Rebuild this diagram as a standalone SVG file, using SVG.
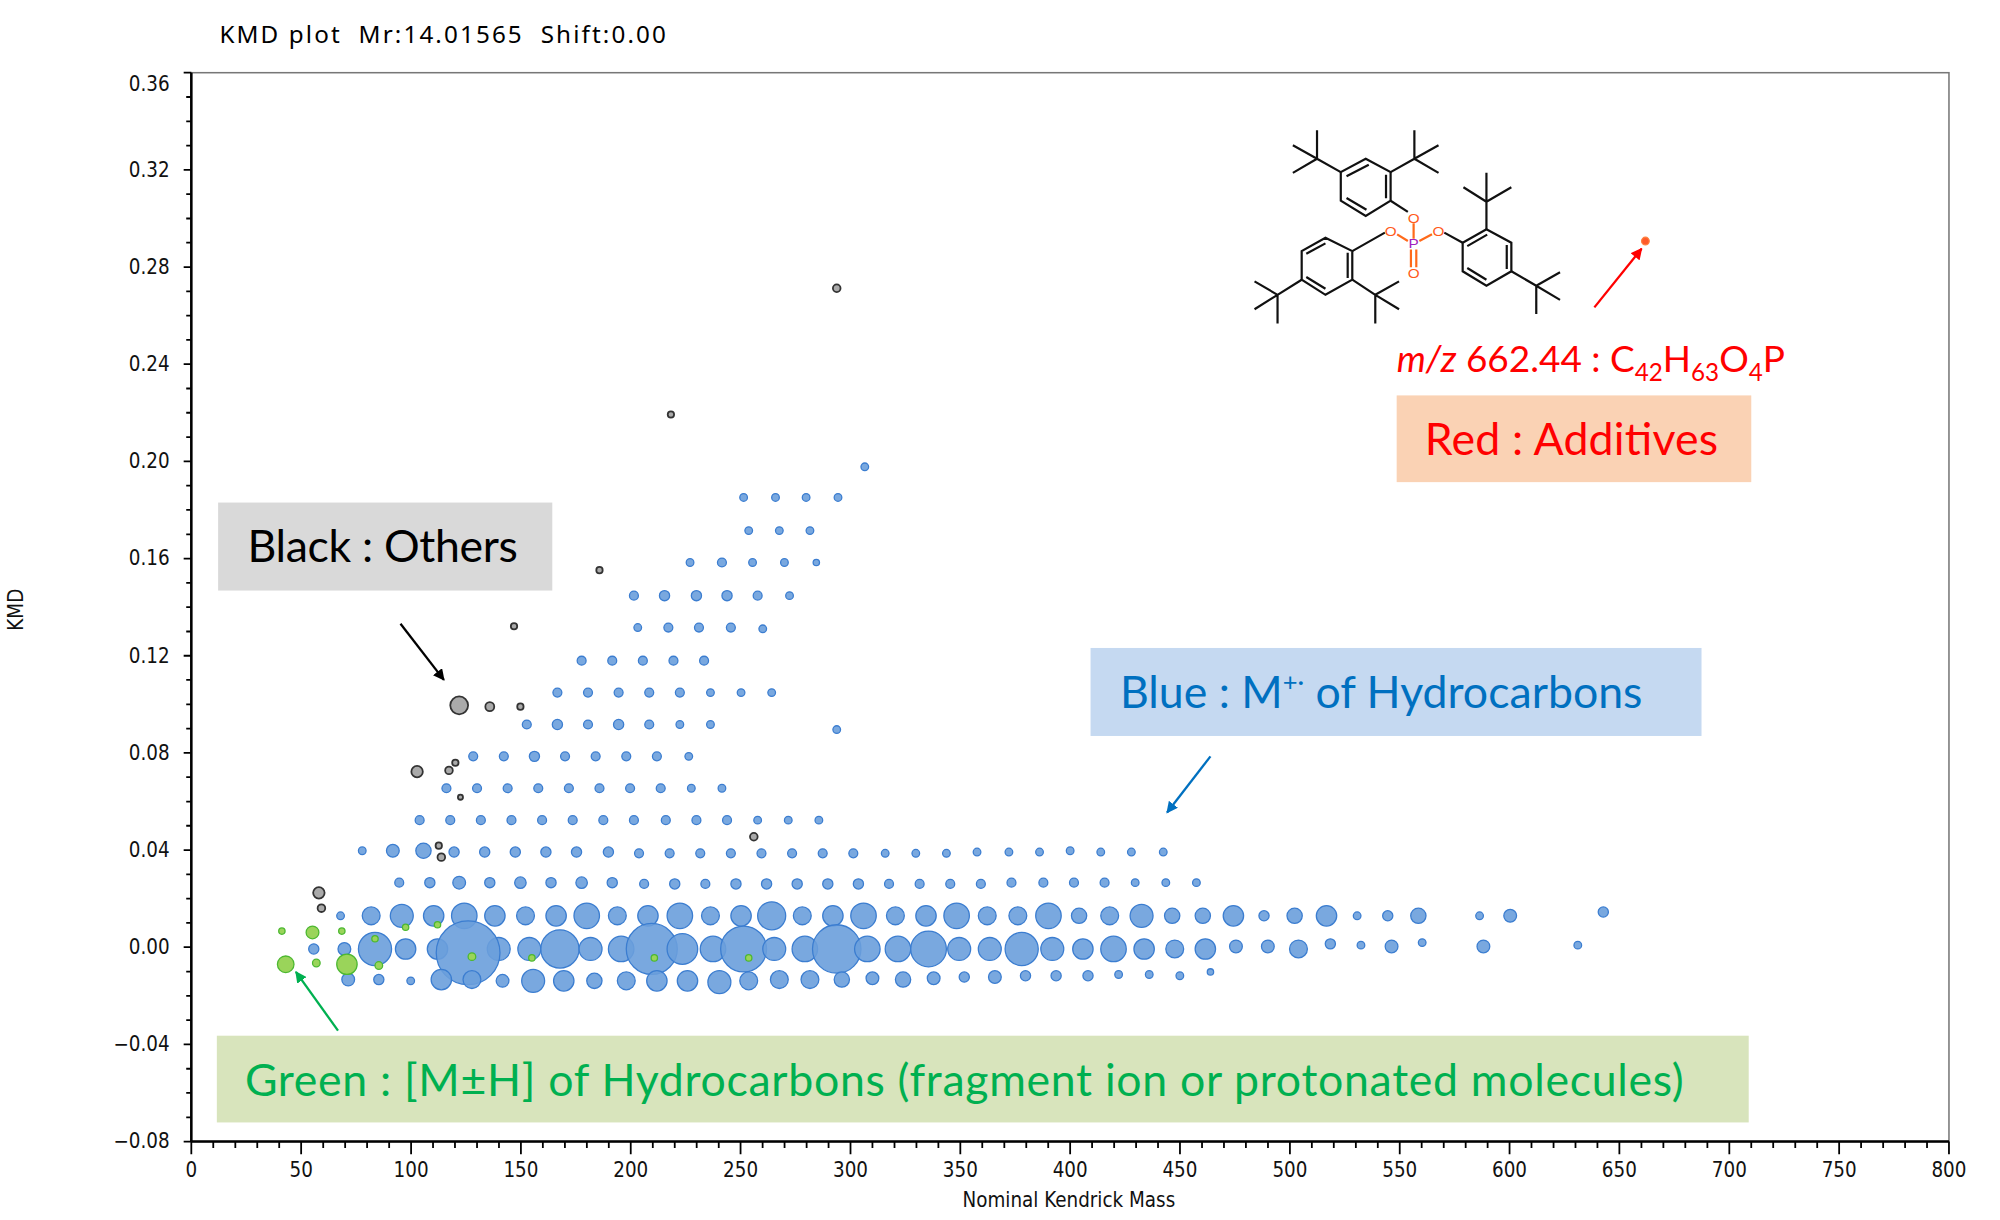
<svg xmlns="http://www.w3.org/2000/svg" width="2000" height="1220" viewBox="0 0 2000 1220">
<style>
.ax{font-family:"DejaVu Sans Condensed","DejaVu Sans",sans-serif;font-size:16px;fill:#111}
.lb{font-family:Lato,"Open Sans",sans-serif;font-size:35px}
.b{fill:#6a9edb;stroke:#3b7dd0;stroke-width:1;fill-opacity:.9}
.k{fill:#aaa;stroke:#333;stroke-width:1.4}
.g{fill:#9ad45a;stroke:#4cb830;stroke-width:1}
.m line,.m path{stroke:#111;stroke-width:2.2;vector-effect:non-scaling-stroke;fill:none}
</style>
<defs>
<marker id="ak" viewBox="0 0 10 10" refX="9" refY="5" markerWidth="5" markerHeight="5" orient="auto"><path d="M0,0L10,5L0,10z" fill="#000"/></marker>
<marker id="ab" viewBox="0 0 10 10" refX="9" refY="5" markerWidth="5" markerHeight="5" orient="auto"><path d="M0,0L10,5L0,10z" fill="#0070c0"/></marker>
<marker id="ag" viewBox="0 0 10 10" refX="9" refY="5" markerWidth="5" markerHeight="5" orient="auto"><path d="M0,0L10,5L0,10z" fill="#00b050"/></marker>
<marker id="ar" viewBox="0 0 10 10" refX="9" refY="5" markerWidth="5" markerHeight="5" orient="auto"><path d="M0,0L10,5L0,10z" fill="#ff0000"/></marker>
</defs>
<rect width="2000" height="1220" fill="#fff"/>
<g transform="scale(1.2755)">
<g id="axes">
<text x="172" y="34" textLength="350" style="font-family:'Noto Sans',sans-serif;font-size:19px" xml:space="preserve">KMD plot  Mr:14.01565  Shift:0.00</text>
<rect x="150" y="57" width="1378" height="838" fill="none" stroke="#777" stroke-width="1.2"/>
<line x1="150" y1="57" x2="150" y2="895" stroke="#000" stroke-width="2"/>
<line x1="150" y1="895" x2="1528" y2="895" stroke="#000" stroke-width="2"/>
<path stroke="#000" stroke-width="1.4" d="M144,57h6M144,133.2h6M144,209.4h6M144,285.5h6M144,361.7h6M144,437.9h6M144,514.1h6M144,590.3h6M144,666.5h6M144,742.6h6M144,818.8h6M144,895h6
M146,76.05h4M146,95.1h4M146,114.1h4M146,152.2h4M146,171.3h4M146,190.3h4M146,228.4h4M146,247.5h4M146,266.5h4M146,304.6h4M146,323.6h4M146,342.7h4M146,380.8h4M146,399.8h4M146,418.9h4M146,457h4M146,476h4M146,495.1h4M146,533.1h4M146,552.2h4M146,571.2h4M146,609.3h4M146,628.4h4M146,647.4h4M146,685.5h4M146,704.6h4M146,723.6h4M146,761.7h4M146,780.7h4M146,799.8h4M146,837.9h4M146,856.9h4M146,876h4"/>
<path stroke="#000" stroke-width="1.4" d="M150,895v10M236.1,895v10M322.3,895v10M408.4,895v10M494.5,895v10M580.6,895v10M666.8,895v10M752.9,895v10M839,895v10M925.1,895v10M1011.3,895v10M1097.4,895v10M1183.5,895v10M1269.6,895v10M1355.8,895v10M1441.9,895v10M1528,895v10
M167.2,895v5M184.5,895v5M201.7,895v5M218.9,895v5M253.4,895v5M270.6,895v5M287.8,895v5M305.1,895v5M339.5,895v5M356.7,895v5M374,895v5M391.2,895v5M425.6,895v5M442.9,895v5M460.1,895v5M477.3,895v5M511.8,895v5M529,895v5M546.2,895v5M563.5,895v5M597.9,895v5M615.1,895v5M632.4,895v5M649.6,895v5M684,895v5M701.3,895v5M718.5,895v5M735.7,895v5M770.1,895v5M787.4,895v5M804.6,895v5M821.8,895v5M856.2,895v5M873.5,895v5M890.7,895v5M907.9,895v5M942.4,895v5M959.6,895v5M976.8,895v5M994.1,895v5M1028.5,895v5M1045.7,895v5M1063,895v5M1080.2,895v5M1114.6,895v5M1131.9,895v5M1149.1,895v5M1166.3,895v5M1200.7,895v5M1218,895v5M1235.2,895v5M1252.4,895v5M1286.9,895v5M1304.1,895v5M1321.3,895v5M1338.6,895v5M1373,895v5M1390.2,895v5M1407.5,895v5M1424.7,895v5M1459.1,895v5M1476.4,895v5M1493.6,895v5M1510.8,895v5"/>
<g class="ax" text-anchor="end">
<text x="133" y="71">0.36</text><text x="133" y="139">0.32</text><text x="133" y="215">0.28</text><text x="133" y="291">0.24</text><text x="133" y="367">0.20</text><text x="133" y="443">0.16</text><text x="133" y="520">0.12</text><text x="133" y="596">0.08</text><text x="133" y="672">0.04</text><text x="133" y="748">0.00</text><text x="133" y="824">−0.04</text><text x="133" y="900">−0.08</text>
</g>
<g class="ax" text-anchor="middle">
<text x="150" y="923">0</text><text x="236.1" y="923">50</text><text x="322.3" y="923">100</text><text x="408.4" y="923">150</text><text x="494.5" y="923">200</text><text x="580.6" y="923">250</text><text x="666.8" y="923">300</text><text x="752.9" y="923">350</text><text x="839" y="923">400</text><text x="925.1" y="923">450</text><text x="1011.3" y="923">500</text><text x="1097.4" y="923">550</text><text x="1183.5" y="923">600</text><text x="1269.6" y="923">650</text><text x="1355.8" y="923">700</text><text x="1441.9" y="923">750</text><text x="1528" y="923">800</text>
<text x="838" y="946">Nominal Kendrick Mass</text>
<text transform="translate(18,478) rotate(-90)">KMD</text>
</g>
</g>
<g id="blue-points">
<circle class="b" cx="267" cy="718" r="3"/>
<circle class="b" cx="291" cy="718" r="7"/><circle class="b" cx="315" cy="718" r="9"/><circle class="b" cx="340" cy="718" r="8"/><circle class="b" cx="364" cy="718" r="10"/><circle class="b" cx="388" cy="718" r="8"/><circle class="b" cx="412" cy="718" r="7"/><circle class="b" cx="436" cy="718" r="8"/><circle class="b" cx="460" cy="718" r="10"/><circle class="b" cx="484" cy="718" r="7"/><circle class="b" cx="508" cy="718" r="8"/><circle class="b" cx="533" cy="718" r="10"/><circle class="b" cx="557" cy="718" r="7"/><circle class="b" cx="581" cy="718" r="8"/><circle class="b" cx="605" cy="718" r="11"/><circle class="b" cx="629" cy="718" r="7"/><circle class="b" cx="653" cy="718" r="8"/><circle class="b" cx="677" cy="718" r="10"/><circle class="b" cx="702" cy="718" r="7"/><circle class="b" cx="726" cy="718" r="8"/><circle class="b" cx="750" cy="718" r="10"/><circle class="b" cx="774" cy="718" r="7"/><circle class="b" cx="798" cy="718" r="7"/><circle class="b" cx="822" cy="718" r="10"/><circle class="b" cx="846" cy="718" r="6"/><circle class="b" cx="870" cy="718" r="7"/><circle class="b" cx="895" cy="718" r="9"/><circle class="b" cx="919" cy="718" r="6"/><circle class="b" cx="943" cy="718" r="6"/><circle class="b" cx="967" cy="718" r="8"/><circle class="b" cx="991" cy="718" r="4"/><circle class="b" cx="1015" cy="718" r="6"/><circle class="b" cx="1040" cy="718" r="8"/><circle class="b" cx="1064" cy="718" r="3"/><circle class="b" cx="1088" cy="718" r="4"/><circle class="b" cx="1112" cy="718" r="6"/><circle class="b" cx="1160" cy="718" r="3"/><circle class="b" cx="1184" cy="718" r="5"/><circle class="b" cx="1257" cy="715" r="4"/>
<circle class="b" cx="246" cy="744" r="4"/><circle class="b" cx="270" cy="744" r="5"/><circle class="b" cx="294" cy="744" r="13"/><circle class="b" cx="318" cy="744" r="8"/><circle class="b" cx="343" cy="744" r="8"/><circle class="b" cx="391" cy="744" r="9"/><circle class="b" cx="415" cy="744" r="9"/><circle class="b" cx="439" cy="744" r="15"/><circle class="b" cx="463" cy="744" r="9"/><circle class="b" cx="487" cy="744" r="10"/><circle class="b" cx="511" cy="744" r="20"/><circle class="b" cx="535" cy="744" r="12"/><circle class="b" cx="559" cy="744" r="10"/><circle class="b" cx="583" cy="744" r="18"/><circle class="b" cx="607" cy="744" r="9"/><circle class="b" cx="631" cy="744" r="10"/><circle class="b" cx="656" cy="744" r="19"/><circle class="b" cx="680" cy="744" r="10"/><circle class="b" cx="704" cy="744" r="10"/><circle class="b" cx="728" cy="744" r="14"/><circle class="b" cx="752" cy="744" r="9"/><circle class="b" cx="776" cy="744" r="9"/><circle class="b" cx="801" cy="744" r="13"/><circle class="b" cx="825" cy="744" r="9"/><circle class="b" cx="849" cy="744" r="8"/><circle class="b" cx="873" cy="744" r="10"/><circle class="b" cx="897" cy="744" r="8"/><circle class="b" cx="921" cy="744" r="7"/><circle class="b" cx="945" cy="744" r="8"/><circle class="b" cx="969" cy="742" r="5"/><circle class="b" cx="994" cy="742" r="5"/><circle class="b" cx="1018" cy="744" r="7"/><circle class="b" cx="1043" cy="740" r="4"/><circle class="b" cx="1067" cy="741" r="3"/><circle class="b" cx="1091" cy="742" r="5"/><circle class="b" cx="1115" cy="739" r="3"/><circle class="b" cx="1163" cy="742" r="5"/><circle class="b" cx="1237" cy="741" r="3"/>
<circle class="b" cx="367" cy="747" r="25"/>
<circle class="b" cx="273" cy="768" r="5"/><circle class="b" cx="297" cy="768" r="4"/><circle class="b" cx="322" cy="769" r="3"/><circle class="b" cx="346" cy="768" r="8"/><circle class="b" cx="370" cy="768" r="7"/><circle class="b" cx="394" cy="769" r="5"/><circle class="b" cx="418" cy="769" r="9"/><circle class="b" cx="442" cy="769" r="8"/><circle class="b" cx="466" cy="769" r="6"/><circle class="b" cx="491" cy="769" r="7"/><circle class="b" cx="515" cy="769" r="8"/><circle class="b" cx="539" cy="769" r="8"/><circle class="b" cx="564" cy="770" r="9"/><circle class="b" cx="587" cy="769" r="7"/><circle class="b" cx="611" cy="768" r="7"/><circle class="b" cx="635" cy="768" r="7"/><circle class="b" cx="660" cy="768" r="6"/><circle class="b" cx="684" cy="767" r="5"/><circle class="b" cx="708" cy="768" r="6"/><circle class="b" cx="732" cy="767" r="5"/><circle class="b" cx="756" cy="766" r="4"/><circle class="b" cx="780" cy="766" r="5"/><circle class="b" cx="804" cy="765" r="4"/><circle class="b" cx="828" cy="765" r="4"/><circle class="b" cx="853" cy="765" r="4"/><circle class="b" cx="877" cy="764" r="3"/><circle class="b" cx="901" cy="764" r="3"/><circle class="b" cx="925" cy="765" r="3"/><circle class="b" cx="949" cy="762" r="2.5"/>
<circle class="b" cx="313" cy="692" r="3.5"/><circle class="b" cx="337" cy="692" r="4"/><circle class="b" cx="360" cy="692" r="5"/><circle class="b" cx="384" cy="692" r="4"/><circle class="b" cx="408" cy="692" r="4.5"/><circle class="b" cx="432" cy="692" r="4"/><circle class="b" cx="456" cy="692" r="4.5"/><circle class="b" cx="480" cy="692" r="4"/><circle class="b" cx="505" cy="693" r="3.5"/><circle class="b" cx="529" cy="693" r="4"/><circle class="b" cx="553" cy="693" r="3.5"/><circle class="b" cx="577" cy="693" r="4"/><circle class="b" cx="601" cy="693" r="4"/><circle class="b" cx="625" cy="693" r="4"/><circle class="b" cx="649" cy="693" r="4"/><circle class="b" cx="673" cy="693" r="4"/><circle class="b" cx="697" cy="693" r="3.5"/><circle class="b" cx="721" cy="693" r="3.5"/><circle class="b" cx="745" cy="693" r="3.5"/><circle class="b" cx="769" cy="693" r="3.5"/><circle class="b" cx="793" cy="692" r="3.5"/><circle class="b" cx="818" cy="692" r="3.5"/><circle class="b" cx="842" cy="692" r="3.5"/><circle class="b" cx="866" cy="692" r="3.5"/><circle class="b" cx="890" cy="692" r="3"/><circle class="b" cx="914" cy="692" r="3"/><circle class="b" cx="938" cy="692" r="3"/>
<circle class="b" cx="284" cy="667" r="3"/><circle class="b" cx="308" cy="667" r="5"/><circle class="b" cx="332" cy="667" r="6"/><circle class="b" cx="356" cy="668" r="4"/><circle class="b" cx="380" cy="668" r="4"/><circle class="b" cx="404" cy="668" r="4"/><circle class="b" cx="428" cy="668" r="4"/><circle class="b" cx="452" cy="668" r="4"/><circle class="b" cx="477" cy="668" r="4"/><circle class="b" cx="501" cy="669" r="3.5"/><circle class="b" cx="525" cy="669" r="3.5"/><circle class="b" cx="549" cy="669" r="3.5"/><circle class="b" cx="573" cy="669" r="3.5"/><circle class="b" cx="597" cy="669" r="3.5"/><circle class="b" cx="621" cy="669" r="3.5"/><circle class="b" cx="645" cy="669" r="3.5"/><circle class="b" cx="669" cy="669" r="3.5"/><circle class="b" cx="694" cy="669" r="3"/><circle class="b" cx="718" cy="669" r="3"/><circle class="b" cx="742" cy="669" r="3"/><circle class="b" cx="766" cy="668" r="3"/><circle class="b" cx="791" cy="668" r="3"/><circle class="b" cx="815" cy="668" r="3"/><circle class="b" cx="839" cy="667" r="3"/><circle class="b" cx="863" cy="668" r="3"/><circle class="b" cx="887" cy="668" r="3"/><circle class="b" cx="912" cy="668" r="3"/>
<circle class="b" cx="329" cy="643" r="3.5"/><circle class="b" cx="353" cy="643" r="3.5"/><circle class="b" cx="377" cy="643" r="3.5"/><circle class="b" cx="401" cy="643" r="3.5"/><circle class="b" cx="425" cy="643" r="3.5"/><circle class="b" cx="449" cy="643" r="3.5"/><circle class="b" cx="473" cy="643" r="3.5"/><circle class="b" cx="497" cy="643" r="3.5"/><circle class="b" cx="522" cy="643" r="3.5"/><circle class="b" cx="546" cy="643" r="3.5"/><circle class="b" cx="570" cy="643" r="3.5"/><circle class="b" cx="594" cy="643" r="3"/><circle class="b" cx="618" cy="643" r="3"/><circle class="b" cx="642" cy="643" r="3"/>
<circle class="b" cx="350" cy="618" r="3.5"/><circle class="b" cx="374" cy="618" r="3.5"/><circle class="b" cx="398" cy="618" r="3.5"/><circle class="b" cx="422" cy="618" r="3.5"/><circle class="b" cx="446" cy="618" r="3.5"/><circle class="b" cx="470" cy="618" r="3.5"/><circle class="b" cx="494" cy="618" r="3.5"/><circle class="b" cx="518" cy="618" r="3.5"/><circle class="b" cx="542" cy="618" r="3"/><circle class="b" cx="566" cy="618" r="3"/>
<circle class="b" cx="371" cy="593" r="3.5"/><circle class="b" cx="395" cy="593" r="3.5"/><circle class="b" cx="419" cy="593" r="4"/><circle class="b" cx="443" cy="593" r="3.5"/><circle class="b" cx="467" cy="593" r="3.5"/><circle class="b" cx="491" cy="593" r="3.5"/><circle class="b" cx="515" cy="593" r="3.5"/><circle class="b" cx="540" cy="593" r="3"/>
<circle class="b" cx="413" cy="568" r="3.5"/><circle class="b" cx="437" cy="568" r="4"/><circle class="b" cx="461" cy="568" r="3.5"/><circle class="b" cx="485" cy="568" r="4"/><circle class="b" cx="509" cy="568" r="3.5"/><circle class="b" cx="533" cy="568" r="3"/><circle class="b" cx="557" cy="568" r="3"/>
<circle class="b" cx="437" cy="543" r="3.5"/><circle class="b" cx="461" cy="543" r="3.5"/><circle class="b" cx="485" cy="543" r="3.5"/><circle class="b" cx="509" cy="543" r="3.5"/><circle class="b" cx="533" cy="543" r="3.5"/><circle class="b" cx="557" cy="543" r="3"/><circle class="b" cx="581" cy="543" r="3"/><circle class="b" cx="605" cy="543" r="3"/>
<circle class="b" cx="456" cy="518" r="3.5"/><circle class="b" cx="480" cy="518" r="3.5"/><circle class="b" cx="504" cy="518" r="3.5"/><circle class="b" cx="528" cy="518" r="3.5"/><circle class="b" cx="552" cy="518" r="3.5"/>
<circle class="b" cx="500" cy="492" r="3"/><circle class="b" cx="524" cy="492" r="3.5"/><circle class="b" cx="548" cy="492" r="3.5"/><circle class="b" cx="573" cy="492" r="3.5"/><circle class="b" cx="598" cy="493" r="3"/>
<circle class="b" cx="497" cy="467" r="3.5"/><circle class="b" cx="521" cy="467" r="4"/><circle class="b" cx="546" cy="467" r="4"/><circle class="b" cx="570" cy="467" r="4"/><circle class="b" cx="594" cy="467" r="3.5"/><circle class="b" cx="619" cy="467" r="3"/>
<circle class="b" cx="541" cy="441" r="3"/><circle class="b" cx="566" cy="441" r="3.5"/><circle class="b" cx="590" cy="441" r="3"/><circle class="b" cx="615" cy="441" r="3"/><circle class="b" cx="640" cy="441" r="2.5"/>
<circle class="b" cx="587" cy="416" r="3"/><circle class="b" cx="611" cy="416" r="3"/><circle class="b" cx="635" cy="416" r="3"/>
<circle class="b" cx="583" cy="390" r="3"/><circle class="b" cx="608" cy="390" r="3"/><circle class="b" cx="632" cy="390" r="3"/><circle class="b" cx="657" cy="390" r="3"/>
<circle class="b" cx="656" cy="572" r="3"/><circle class="b" cx="678" cy="366" r="3"/>
</g>
<g id="black-points">
<circle class="k" cx="656" cy="226" r="3"/><circle class="k" cx="526" cy="325" r="2.5"/><circle class="k" cx="470" cy="447" r="2.5"/><circle class="k" cx="403" cy="491" r="2.5"/><circle class="k" cx="360" cy="553" r="7"/><circle class="k" cx="384" cy="554" r="3.5"/><circle class="k" cx="408" cy="554" r="2.5"/><circle class="k" cx="327" cy="605" r="4.5"/><circle class="k" cx="352" cy="604" r="3"/><circle class="k" cx="357" cy="598" r="2.5"/><circle class="k" cx="361" cy="625" r="2"/><circle class="k" cx="344" cy="663" r="2.5"/><circle class="k" cx="346" cy="672" r="3"/><circle class="k" cx="591" cy="656" r="3"/><circle class="k" cx="250" cy="700" r="4.5"/><circle class="k" cx="252" cy="712" r="3"/>
</g>
<g id="green-points">
<circle class="g" cx="221" cy="730" r="2.5"/><circle class="g" cx="245" cy="731" r="5"/><circle class="g" cx="268" cy="730" r="2.5"/><circle class="g" cx="224" cy="756" r="6.5"/><circle class="g" cx="248" cy="755" r="3"/><circle class="g" cx="272" cy="756" r="8"/><circle class="g" cx="294" cy="736" r="2.5"/><circle class="g" cx="318" cy="727" r="2.5"/><circle class="g" cx="343" cy="725" r="2.5"/><circle class="g" cx="370" cy="750" r="3"/><circle class="g" cx="417" cy="751" r="2.5"/><circle class="g" cx="513" cy="751" r="2.5"/><circle class="g" cx="587" cy="751" r="2.5"/><circle class="g" cx="297" cy="757" r="3"/>
</g>
<g id="red-point"><circle cx="1290" cy="189" r="3" fill="#ff5a2a" stroke="#ff8040"/></g>
<g id="molecule" class="m" transform="translate(940,77) scale(0.3005,0.2635)">
<path d="M435,180L500,220L500,305L435,350L370,305L370,220Z M443,198L385,232 M488,228L488,298 M385,297L437,332"/>
<path d="M370,220L308,180M308,180L308,95M308,180L245,140M308,180L245,222 M500,220L562,180M562,180L562,95M562,180L625,140M562,180L625,222"/>
<path d="M500,305L545,338"/>
<path d="M400,455L400,540L330,585L268,540L268,455L330,415Z M330,432L280,463 M388,460L388,535 M280,532L330,567"/>
<path d="M268,540L205,585M205,585L145,545M205,585L145,628M205,585L205,670 M400,540L460,585M460,585L522,545M460,585L522,628M460,585L460,670"/>
<path d="M485,400L400,455 M640,400L688,430"/>
<path d="M688,430L750,390L815,430L815,515L750,558L688,515Z M700,440L752,406 M803,437L803,508 M700,505L750,540"/>
<path d="M750,390L750,308M750,308L750,222M750,308L690,265M750,308L815,265 M815,515L880,558M880,558L942,518M880,558L942,600M880,558L880,642"/>
<path d="M560,372L560,418 M545,425L517,405 M575,425L608,405 M553,450L553,503 M567,450L567,503" style="stroke:#ff6a1a"/>
<g font-family="Liberation Sans,sans-serif" font-size="40" text-anchor="middle">
<text x="560" y="370" fill="#ff5a1a">O</text><text x="500" y="410" fill="#ff5a1a">O</text><text x="625" y="410" fill="#ff5a1a">O</text><text x="560" y="535" fill="#ff5a1a">O</text><text x="560" y="447" fill="#a020c0">P</text>
</g>
</g>
<g id="connectors">
<line x1="314" y1="489" x2="348" y2="533" stroke="#000" stroke-width="1.8" marker-end="url(#ak)"/>
<line x1="949" y1="593" x2="915" y2="637" stroke="#0070c0" stroke-width="1.8" marker-end="url(#ab)"/>
<line x1="265" y1="808" x2="232" y2="762" stroke="#00b050" stroke-width="1.8" marker-end="url(#ag)"/>
<line x1="1250" y1="241" x2="1287" y2="195" stroke="#ff0000" stroke-width="1.8" marker-end="url(#ar)"/>
</g>
<g id="label-black"><rect x="171" y="394" width="262" height="69" fill="#d9d9d9"/><text class="lb" x="194" y="441" textLength="212" fill="#000">Black : Others</text></g>
<g id="label-blue"><rect x="855" y="508" width="479" height="69" fill="#c5d9f1"/><text class="lb" x="878" y="555" fill="#0070c0">Blue : M<tspan dy="-13" font-size="20">+·</tspan><tspan dy="13"> of Hydrocarbons</tspan></text></g>
<g id="label-red"><rect x="1095" y="310" width="278" height="68" fill="#fad2b4"/><text class="lb" x="1117" y="357" textLength="230" fill="#ff0000">Red : Additives</text></g>
<g id="label-formula"><text class="lb" x="1095" y="292" fill="#ff0000" style="font-size:29px"><tspan font-style="italic">m/z</tspan> 662.44 : C<tspan dy="7" font-size="19">42</tspan><tspan dy="-7">H</tspan><tspan dy="7" font-size="19">63</tspan><tspan dy="-7">O</tspan><tspan dy="7" font-size="19">4</tspan><tspan dy="-7">P</tspan></text></g>
<g id="label-green"><rect x="170" y="812" width="1201" height="68" fill="#d8e4bc"/><text class="lb" x="192" y="859" textLength="1128" fill="#00b050">Green : [M±H] of Hydrocarbons (fragment ion or protonated molecules)</text></g>
</g>
</svg>
